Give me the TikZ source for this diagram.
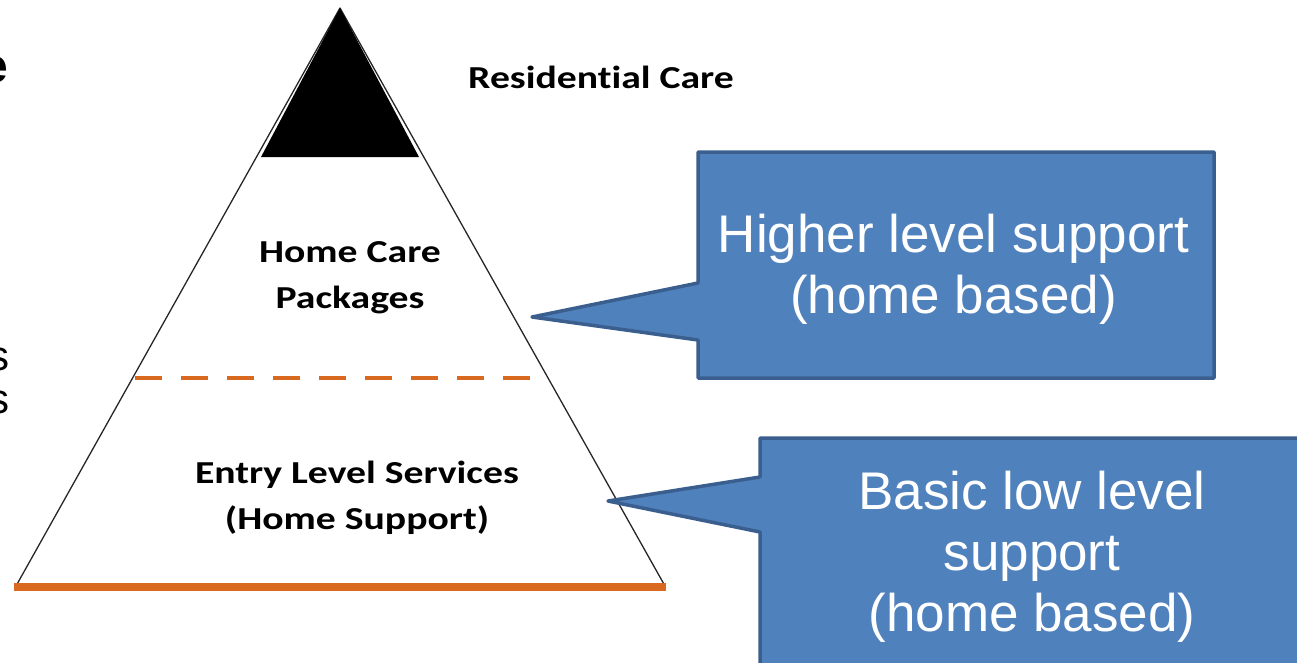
\documentclass[tikz,border=0pt]{standalone}
\usepackage{fontspec}
\setmainfont{Liberation Sans}
\newfontfamily\calfont[Ligatures=NoCommon]{Carlito}
\definecolor{calloutfill}{HTML}{4F81BD}
\definecolor{calloutline}{HTML}{3A5F8E}
\definecolor{orangeline}{HTML}{D9691F}
\newcommand{\widetext}[1]{\scalebox{1.24}[1]{#1}}
\begin{document}
\begin{tikzpicture}[x=1pt,y=-1pt,
  pyrlabel/.style={font=\calfont\bfseries\fontsize{32}{46}\selectfont, align=center, inner sep=0pt, text=black},
  calltext/.style={font=\fontsize{53}{61}\selectfont, align=center, inner sep=0pt, text=white},
  callshape/.style={fill=calloutfill, draw=calloutline, line width=3.5pt, line join=round},
  fragtext/.style={inner sep=0pt, text=black, anchor=base east}]
\useasboundingbox (0,0) rectangle (1297,662);
\begin{scope}
\clip (0,0) rectangle (1297,662);
% clipped fragments at the left edge
\node[fragtext, font=\bfseries\fontsize{48}{48}\selectfont] (fragE) at (8,82) {e};
\node[fragtext, font=\fontsize{42}{42}\selectfont] (fragS1) at (9.5,370) {s};
\node[fragtext, font=\fontsize{42}{42}\selectfont] (fragS2) at (9.5,413) {s};
% pyramid
\coordinate (apex) at (340,8);
\coordinate (bl) at (16,586);
\coordinate (br) at (665,586);
\draw[line width=1.3pt, black!85, line join=round] (bl) -- (apex) -- (br);
\fill[black] (340,8) -- (261,157) -- (419,157) -- cycle;
\draw[orangeline, line width=4pt, dash pattern=on 27pt off 19pt] (135,378) -- (530,378);
\draw[orangeline, line width=7.5pt] (14,587) -- (666,587);
% pyramid labels
\node[pyrlabel, anchor=base] (res) at (601,88) {\widetext{Residential Care}};
\node[pyrlabel] (hcp) at (350,277.7) {\widetext{Home Care}\\\widetext{Packages}};
\node[pyrlabel] (els) at (357,497.3) {\widetext{Entry Level Services}\\\widetext{(Home Support)}};
% callouts
\draw[callshape] (698,152) -- (1214,152) -- (1214,378) -- (698,378) -- (698,340) -- (532,317) -- (698,283) -- cycle;
\draw[callshape] (760,438) -- (1320,438) -- (1320,690) -- (760,690) -- (760,532) -- (608,501) -- (760,477) -- cycle;
\node[calltext] (higher) at (953.5,269) {Higher level support\\(home based)};
\node[calltext] (basic) at (1032,556.5) {Basic low level\\support\\(home based)};
\end{scope}
\end{tikzpicture}
\end{document}
